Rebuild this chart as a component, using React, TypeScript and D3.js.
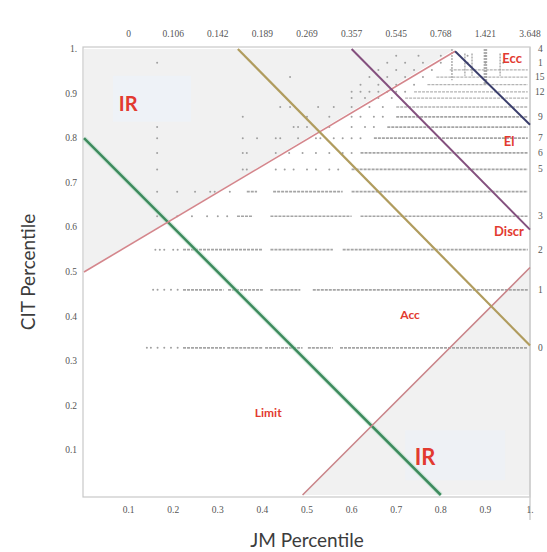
import React from "react";
import * as d3 from "d3";

const W = 547;
const H = 552;

// axis ticks
const pctTicks = [0.1, 0.2, 0.3, 0.4, 0.5, 0.6, 0.7, 0.8, 0.9, 1.0];
const pctLabels = ["0.1", "0.2", "0.3", "0.4", "0.5", "0.6", "0.7", "0.8", "0.9", "1."];
const jmRawLabels = ["0", "0.106", "0.142", "0.189", "0.269", "0.357", "0.545", "0.768", "1.421", "3.648"];
const citRawTicks = [0.33, 0.46, 0.55, 0.625, 0.73, 0.767, 0.80, 0.848, 0.904, 0.937, 0.969, 1.0];
const citRawLabels = ["0", "1", "2", "3", "5", "6", "7", "9", "12", "15", "1", "4"];

// boundary lines [jm, cit]
const limitLine: [number, number][] = [[0, 0.8], [0.8, 0]];
const irUpperLine: [number, number][] = [[0, 0.5], [0.832, 0.995]];
const irLowerLine: [number, number][] = [[0.49, 0], [1, 0.51]];
const accLine: [number, number][] = [[0.345, 1], [1, 0.335]];
const discrLine: [number, number][] = [[0.6, 1], [1, 0.595]];
const elLine: [number, number][] = [[0.832, 0.995], [1, 0.83]];

// shaded IR regions
const irUpperRegion: [number, number][] = [[0, 0.5], [0, 1], [0.832, 1]];
const irLowerRegion: [number, number][] = [[0.49, 0], [1, 0], [1, 0.51]];

// dot rows (CIT percentile level, dense JM segments, sparse JM dots)
const rowLevels = [0.33, 0.46, 0.55, 0.625, 0.68, 0.73, 0.767, 0.80, 0.825, 0.848, 0.87, 0.89, 0.904, 0.92, 0.937, 0.953, 0.969, 0.985];
const rowDense: [number, number][][] = [
  [[0.222, 0.316], [0.321, 0.401], [0.406, 0.49], [0.502, 0.558], [0.574, 0.995]],
  [[0.222, 0.313], [0.323, 0.401], [0.418, 0.485], [0.513, 0.995]],
  [[0.222, 0.401], [0.418, 0.558], [0.58, 0.995]],
  [[0.343, 0.379], [0.418, 0.6], [0.62, 0.995]],
  [[0.365, 0.388], [0.424, 0.58], [0.6, 0.995]],
  [[0.6, 0.995]],
  [[0.62, 0.995]],
  [[0.65, 0.995]],
  [[0.68, 0.995]],
  [[0.7, 0.995]],
  [[0.7, 0.995]],
  [[0.72, 0.995]],
  [[0.74, 0.995]],
  [[0.77, 0.995]],
  [[0.79, 0.995]],
  [[0.82, 0.995]],
  [],
  [],
];
const rowSparse: number[][] = [
  [0.141, 0.15, 0.165, 0.18, 0.195, 0.21],
  [0.155, 0.165, 0.18, 0.195, 0.21],
  [0.16, 0.17, 0.18, 0.2, 0.21],
  [0.164, 0.209, 0.242, 0.276, 0.3, 0.321],
  [0.164, 0.209, 0.249, 0.283, 0.293, 0.327],
  [0.164, 0.356, 0.365, 0.43, 0.45, 0.47, 0.5, 0.52, 0.55, 0.57],
  [0.164, 0.356, 0.365, 0.43, 0.46, 0.49, 0.52, 0.55, 0.58, 0.6],
  [0.164, 0.356, 0.388, 0.43, 0.44, 0.48, 0.52, 0.53, 0.56, 0.58, 0.6, 0.62],
  [0.164, 0.47, 0.48, 0.5, 0.55, 0.6, 0.63, 0.65],
  [0.356, 0.5, 0.55, 0.6, 0.62, 0.65, 0.67],
  [0.44, 0.462, 0.525, 0.56, 0.6, 0.64, 0.67],
  [0.6, 0.63, 0.66, 0.69],
  [0.6, 0.62, 0.64, 0.66, 0.68, 0.7, 0.72],
  [0.62, 0.66, 0.7, 0.74],
  [0.462, 0.64, 0.68, 0.72, 0.76],
  [0.66, 0.7, 0.74, 0.78],
  [0.164, 0.68, 0.72, 0.76, 0.8, 0.86, 0.9, 0.94],
  [0.7, 0.75, 0.8, 0.86, 0.9],
];

// vertical dot stacks near the top right
const stackJm = [0.825, 0.854, 0.87, 0.9, 0.933];
const stackTop = [1.0, 0.99, 0.99, 1.0, 0.99];
const stackBottom = [0.93, 0.94, 0.94, 0.92, 0.94];
const stackWidth = [1.5, 1.5, 1.5, 3.5, 1.5];

// region labels
const regionNames = ["IR", "IR", "Ecc", "El", "Discr", "Acc", "Limit"];
const regionJm = [0.099, 0.765, 0.96, 0.953, 0.953, 0.731, 0.413];
const regionCit = [0.88, 0.087, 0.98, 0.794, 0.592, 0.404, 0.186];
const regionSize = [20, 22, 13, 13, 13, 12, 12];

export default function App() {
  const x = d3.scaleLinear().domain([0, 1]).range([84, 530]);
  const y = d3.scaleLinear().domain([0, 1]).range([495, 49]);
  const line = d3.line<[number, number]>().x((d) => x(d[0])).y((d) => y(d[1]));
  const area = (pts: [number, number][]) => line(pts) + "Z";

  const tickFont = "'Liberation Serif', 'DejaVu Serif', serif";
  const labelFont = "Lato, 'Open Sans', sans-serif";
  const red = "#e23a30";

  return (
    <svg width={W} height={H} style={{ position: "absolute", left: 0, top: 0, background: "#fff" }}>
      <rect x={0} y={0} width={W} height={H} fill="#fff" />
      {/* shaded IR regions */}
      <path d={area(irUpperRegion)} fill="#f1f1f1" />
      <path d={area(irLowerRegion)} fill="#f1f1f1" />
      {/* label backgrounds for IR */}
      <rect x={x(0.065)} y={y(0.94)} width={78} height={46} fill="#edf2f9" opacity={0.7} />
      <rect x={x(0.72)} y={y(0.145)} width={100} height={50} fill="#edf2f9" opacity={0.6} />

      {/* frame */}
      <rect x={83} y={47} width={447} height={450} fill="none" stroke="#c8c8c8" strokeWidth={1.2} />
      <line x1={530} x2={530} y1={47} y2={520} stroke="#cfcfcf" strokeWidth={1.5} />

      {/* dot rows */}
      {rowLevels.map((c, i) => (
        <g key={"r" + i}>
          {rowDense[i].map((s, j) => (
            <line key={j} x1={x(s[0])} x2={x(s[1])} y1={y(c)} y2={y(c)}
              stroke="#9c9c9c" strokeWidth={c > 0.86 ? 1.3 : 1.7} strokeDasharray="3 1" opacity={c > 0.86 ? 0.75 : 0.9} />
          ))}
          {rowSparse[i].map((v, j) => (
            <circle key={"s" + j} cx={x(v)} cy={y(c)} r={1} fill="#a0a0a0" />
          ))}
        </g>
      ))}
      {stackJm.map((v, i) => (
        <line key={"st" + i} x1={x(v)} x2={x(v)} y1={y(stackTop[i])} y2={y(stackBottom[i])}
          stroke="#9a9a9a" strokeWidth={stackWidth[i]} strokeDasharray="2 1" opacity={0.8} />
      ))}

      {/* boundary lines */}
      <path d={line(limitLine)!} stroke="#b8e0c8" strokeWidth={5} fill="none" opacity={0.5} />
      <path d={line(limitLine)!} stroke="#3e8b5e" strokeWidth={2.5} fill="none" />
      <path d={line(irUpperLine)!} stroke="#d4868c" strokeWidth={1.6} fill="none" />
      <path d={line(irLowerLine)!} stroke="#c98489" strokeWidth={1.6} fill="none" />
      <path d={line(accLine)!} stroke="#b09c5e" strokeWidth={2.2} fill="none" />
      <path d={line(discrLine)!} stroke="#84507e" strokeWidth={2} fill="none" />
      <path d={line(elLine)!} stroke="#3a3e6c" strokeWidth={2} fill="none" />

      {/* region labels */}
      {regionNames.map((n, i) => (
        <text key={"l" + i} x={x(regionJm[i])} y={y(regionCit[i])} fill={red} fontFamily={labelFont}
          fontWeight={700} fontSize={regionSize[i]} textAnchor="middle" dominantBaseline="central">{n}</text>
      ))}

      {/* bottom axis */}
      {pctTicks.map((t, i) => (
        <text key={"b" + i} x={x(t)} y={513} fontFamily={tickFont} fontSize={9.5} fill="#555" textAnchor="middle">{pctLabels[i]}</text>
      ))}
      {/* left axis */}
      {pctTicks.map((t, i) => (
        <text key={"lft" + i} x={77} y={y(t) + 3} fontFamily={tickFont} fontSize={9.5} fill="#555" textAnchor="end">{pctLabels[i]}</text>
      ))}
      {/* top axis */}
      {pctTicks.map((t, i) => (
        <text key={"t" + i} x={x(t)} y={37} fontFamily={tickFont} fontSize={9.5} fill="#555" textAnchor="middle">{jmRawLabels[i]}</text>
      ))}
      {/* right axis */}
      {citRawTicks.map((t, i) => (
        <text key={"rt" + i} x={citRawLabels[i].length > 1 ? 535 : 538} y={y(t) + 3} fontFamily={tickFont} fontSize={9.5} fill="#555">{citRawLabels[i]}</text>
      ))}

      {/* axis titles */}
      <text x={307} y={547} fontFamily={labelFont} fontSize={19} fill="#3c3c3c" textAnchor="middle">JM Percentile</text>
      <text transform={`translate(35,272) rotate(-90)`} fontFamily={labelFont} fontSize={19} fill="#3c3c3c" textAnchor="middle">CIT Percentile</text>
    </svg>
  );
}
